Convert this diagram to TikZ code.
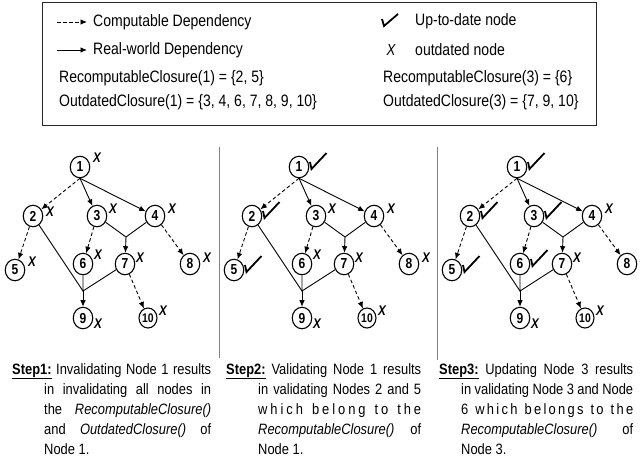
\documentclass[tikz,border=0pt]{standalone}
\usepackage{fontspec}
\setmainfont{Liberation Sans}
\newfontfamily\legfont[FakeStretch=0.85]{Liberation Sans}
\newfontfamily\nrw[FakeStretch=0.83]{Liberation Sans}
\newfontfamily\stepfont[FakeStretch=0.86]{Liberation Sans}
\usetikzlibrary{arrows.meta,shapes.geometric}

\newcommand\drawpanel[2]{%
\begin{scope}[xshift=#1pt]
 \node[gnode] (#2n1) at (80,167) {1};
 \node[gnode] (#2n2) at (33,216) {2};
 \node[gnode] (#2n3) at (97,216) {3};
 \node[gnode] (#2n4) at (155,216) {4};
 \node[gnode] (#2n5) at (15,270) {5};
 \node[gnode] (#2n6) at (83,264) {6};
 \node[gnode] (#2n7) at (125,264) {7};
 \node[gnode] (#2n8) at (190,264) {8};
 \node[gnode] (#2n9) at (83,318) {9};
 \node[tnode] (#2n10) at (148,318) {10};
 \coordinate (#2a) at (126,237);
 \coordinate (#2b) at (83,291);
 \draw[comp] (#2n1.south) -- (#2n2);
 \draw[real] (#2n1.south) -- (#2n3);
 \draw[real] (#2n1.south) -- (#2n4);
 \draw[comp] (#2n2) -- (#2n5);
 \draw[plain] (#2n2) -- (#2b);
 \draw[comp] (#2n3) -- (#2n6);
 \draw[plain] (#2n3) -- (#2a) -- (#2n4);
 \draw[real] (#2a) -- (#2n7);
 \draw[comp] (#2n4) -- (#2n8);
 \draw[plain] (#2n6) -- (#2b) -- (#2n7);
 \draw[real] (#2b) -- (#2n9);
 \draw[comp] (#2n7) -- (#2n10);
\end{scope}}

% X mark next to a node
\newcommand\xmk[2]{\node[xmark] (#1x) at ([shift={#2}]#1.center) {X};}
% check mark next to a node
\newcommand\ckm[1]{\draw[chk] ([shift={(11,-5)}]#1.center) -- ++(1.5,7) -- ++(15,-16);}

\begin{document}
\begin{tikzpicture}[x=1pt,y=-1pt,
  gnode/.style={ellipse, draw, line width=1.1pt, minimum width=19.5pt, minimum height=21.5pt, inner sep=0pt, font=\nrw\bfseries\fontsize{14.5}{14.5}\selectfont},
  tnode/.style={gnode, minimum width=18pt, minimum height=20pt, font=\nrw\bfseries\fontsize{12.5}{12.5}\selectfont},
  real/.style={line width=0.9pt, -{Latex[length=6.5pt,width=5.5pt]}},
  comp/.style={real, dash pattern=on 3.5pt off 2.5pt},
  plain/.style={line width=0.9pt},
  xmark/.style={font=\nrw\bfseries\itshape\fontsize{14}{14}\selectfont, inner sep=0pt},
  chk/.style={line width=1.8pt},
  sepline/.style={draw=gray, line width=1pt},
  boxline/.style={draw=black!85, line width=1pt},
  legtext/.style={font=\legfont\fontsize{16.5}{16.5}\selectfont, anchor=west, inner sep=0pt},
  steptext/.style={font=\stepfont\fontsize{15}{15}\selectfont, anchor=base west, inner sep=0pt},
]
\useasboundingbox (0,0) rectangle (640,459);

% ---------- legend ----------
\draw[boxline] (42,2) rectangle (596,125);
\node[legtext] (l1) at (93,22) {Computable Dependency};
\node[legtext] (l2) at (93,50) {Real-world Dependency};
\coordinate (la1) at (57,22);
\coordinate (la2) at (57,50);
\draw[comp] (la1) -- ([xshift=-6pt]l1.west);
\draw[real] (la2) -- ([xshift=-6pt]l2.west);
\node[legtext] (l3) at (59,78) {RecomputableClosure(1) = \{2, 5\}};
\node[legtext] (l4) at (59,102) {OutdatedClosure(1) = \{3, 4, 6, 7, 8, 9, 10\}};
\node[legtext] (r1) at (415,21) {Up-to-date node};
\coordinate (lc) at (382,19);
\draw[chk] (lc) -- ++(2,7) -- ++(14,-12);
\node[xmark, font=\nrw\itshape\fontsize{16}{16}\selectfont] (rx) at (391,50) {X};
\node[legtext] (r2) at (415,50) {outdated node};
\node[legtext] (r3) at (383,78) {RecomputableClosure(3) = \{6\}};
\node[legtext] (r4) at (383,102) {OutdatedClosure(3) = \{7, 9, 10\}};

% ---------- separators ----------
\draw[sepline] (219,147) -- (219,358);
\draw[sepline] (437,147) -- (437,360);

% ---------- panels ----------
\drawpanel{0}{p1}
\drawpanel{219}{p2}
\drawpanel{437}{p3}

% panel 1 marks
\xmk{p1n1}{(17,-9)} \xmk{p1n2}{(17,-4)} \xmk{p1n3}{(16,-7)} \xmk{p1n4}{(17,-7)}
\xmk{p1n5}{(17,-8)} \xmk{p1n6}{(15,-9)} \xmk{p1n7}{(15,-6)} \xmk{p1n8}{(17,-6)}
\xmk{p1n9}{(15,6)} \xmk{p1n10}{(15,-7)}
% panel 2 marks
\ckm{p2n1} \ckm{p2n2} \ckm{p2n5}
\xmk{p2n3}{(16,-7)} \xmk{p2n4}{(17,-7)}
\xmk{p2n6}{(15,-9)} \xmk{p2n7}{(15,-6)} \xmk{p2n8}{(17,-6)}
\xmk{p2n9}{(15,6)} \xmk{p2n10}{(15,-7)}
% panel 3 marks
\ckm{p3n1} \ckm{p3n2} \ckm{p3n3} \ckm{p3n5} \ckm{p3n6}
\xmk{p3n4}{(17,-7)} \xmk{p3n7}{(15,-6)} \xmk{p3n8}{(17,-6)}
\xmk{p3n9}{(15,6)} \xmk{p3n10}{(15,-7)}

% ---------- step texts ----------
\node[steptext] (s1a) at (12,374) {\makebox[199pt][s]{\underline{\textbf{Step1:}} Invalidating Node 1 results}};
\node[steptext] (s1b) at (44,394) {\makebox[167pt][s]{in invalidating all nodes in}};
\node[steptext] (s1c) at (44,414) {\makebox[167pt][s]{the \textit{RecomputableClosure()}}};
\node[steptext] (s1d) at (44,434) {\makebox[167pt][s]{and \textit{OutdatedClosure()} of}};
\node[steptext] (s1e) at (44,454) {Node 1.};

\node[steptext] (s2a) at (226,374) {\makebox[195pt][s]{\underline{\textbf{Step2:}} Validating Node 1 results}};
\node[steptext] (s2b) at (258,394) {\makebox[163pt][s]{in validating Nodes 2 and 5}};
\node[steptext] (s2c) at (258,414) {\makebox[163pt][s]{w\hfil h\hfil i\hfil c\hfil h\hfil\hfil\hfil b\hfil e\hfil l\hfil o\hfil n\hfil g\hfil\hfil\hfil t\hfil o\hfil\hfil\hfil t\hfil h\hfil e}};
\node[steptext] (s2d) at (258,434) {\makebox[163pt][s]{\textit{RecomputableClosure()} of}};
\node[steptext] (s2e) at (258,454) {Node 1.};

\node[steptext] (s3a) at (439,374) {\makebox[194pt][s]{\underline{\textbf{Step3:}} Updating Node 3 results}};
\node[steptext] (s3b) at (461,394) {\makebox[172pt][s]{in validating Node 3 and Node}};
\node[steptext] (s3c) at (461,414) {\makebox[172pt][s]{6\hfil\hfil\hfil w\hfil h\hfil i\hfil c\hfil h\hfil\hfil\hfil b\hfil e\hfil l\hfil o\hfil n\hfil g\hfil s\hfil\hfil\hfil t\hfil o\hfil\hfil\hfil t\hfil h\hfil e}};
\node[steptext] (s3d) at (461,434) {\makebox[172pt][s]{\textit{RecomputableClosure()} of}};
\node[steptext] (s3e) at (461,454) {Node 3.};
\end{tikzpicture}
\end{document}
